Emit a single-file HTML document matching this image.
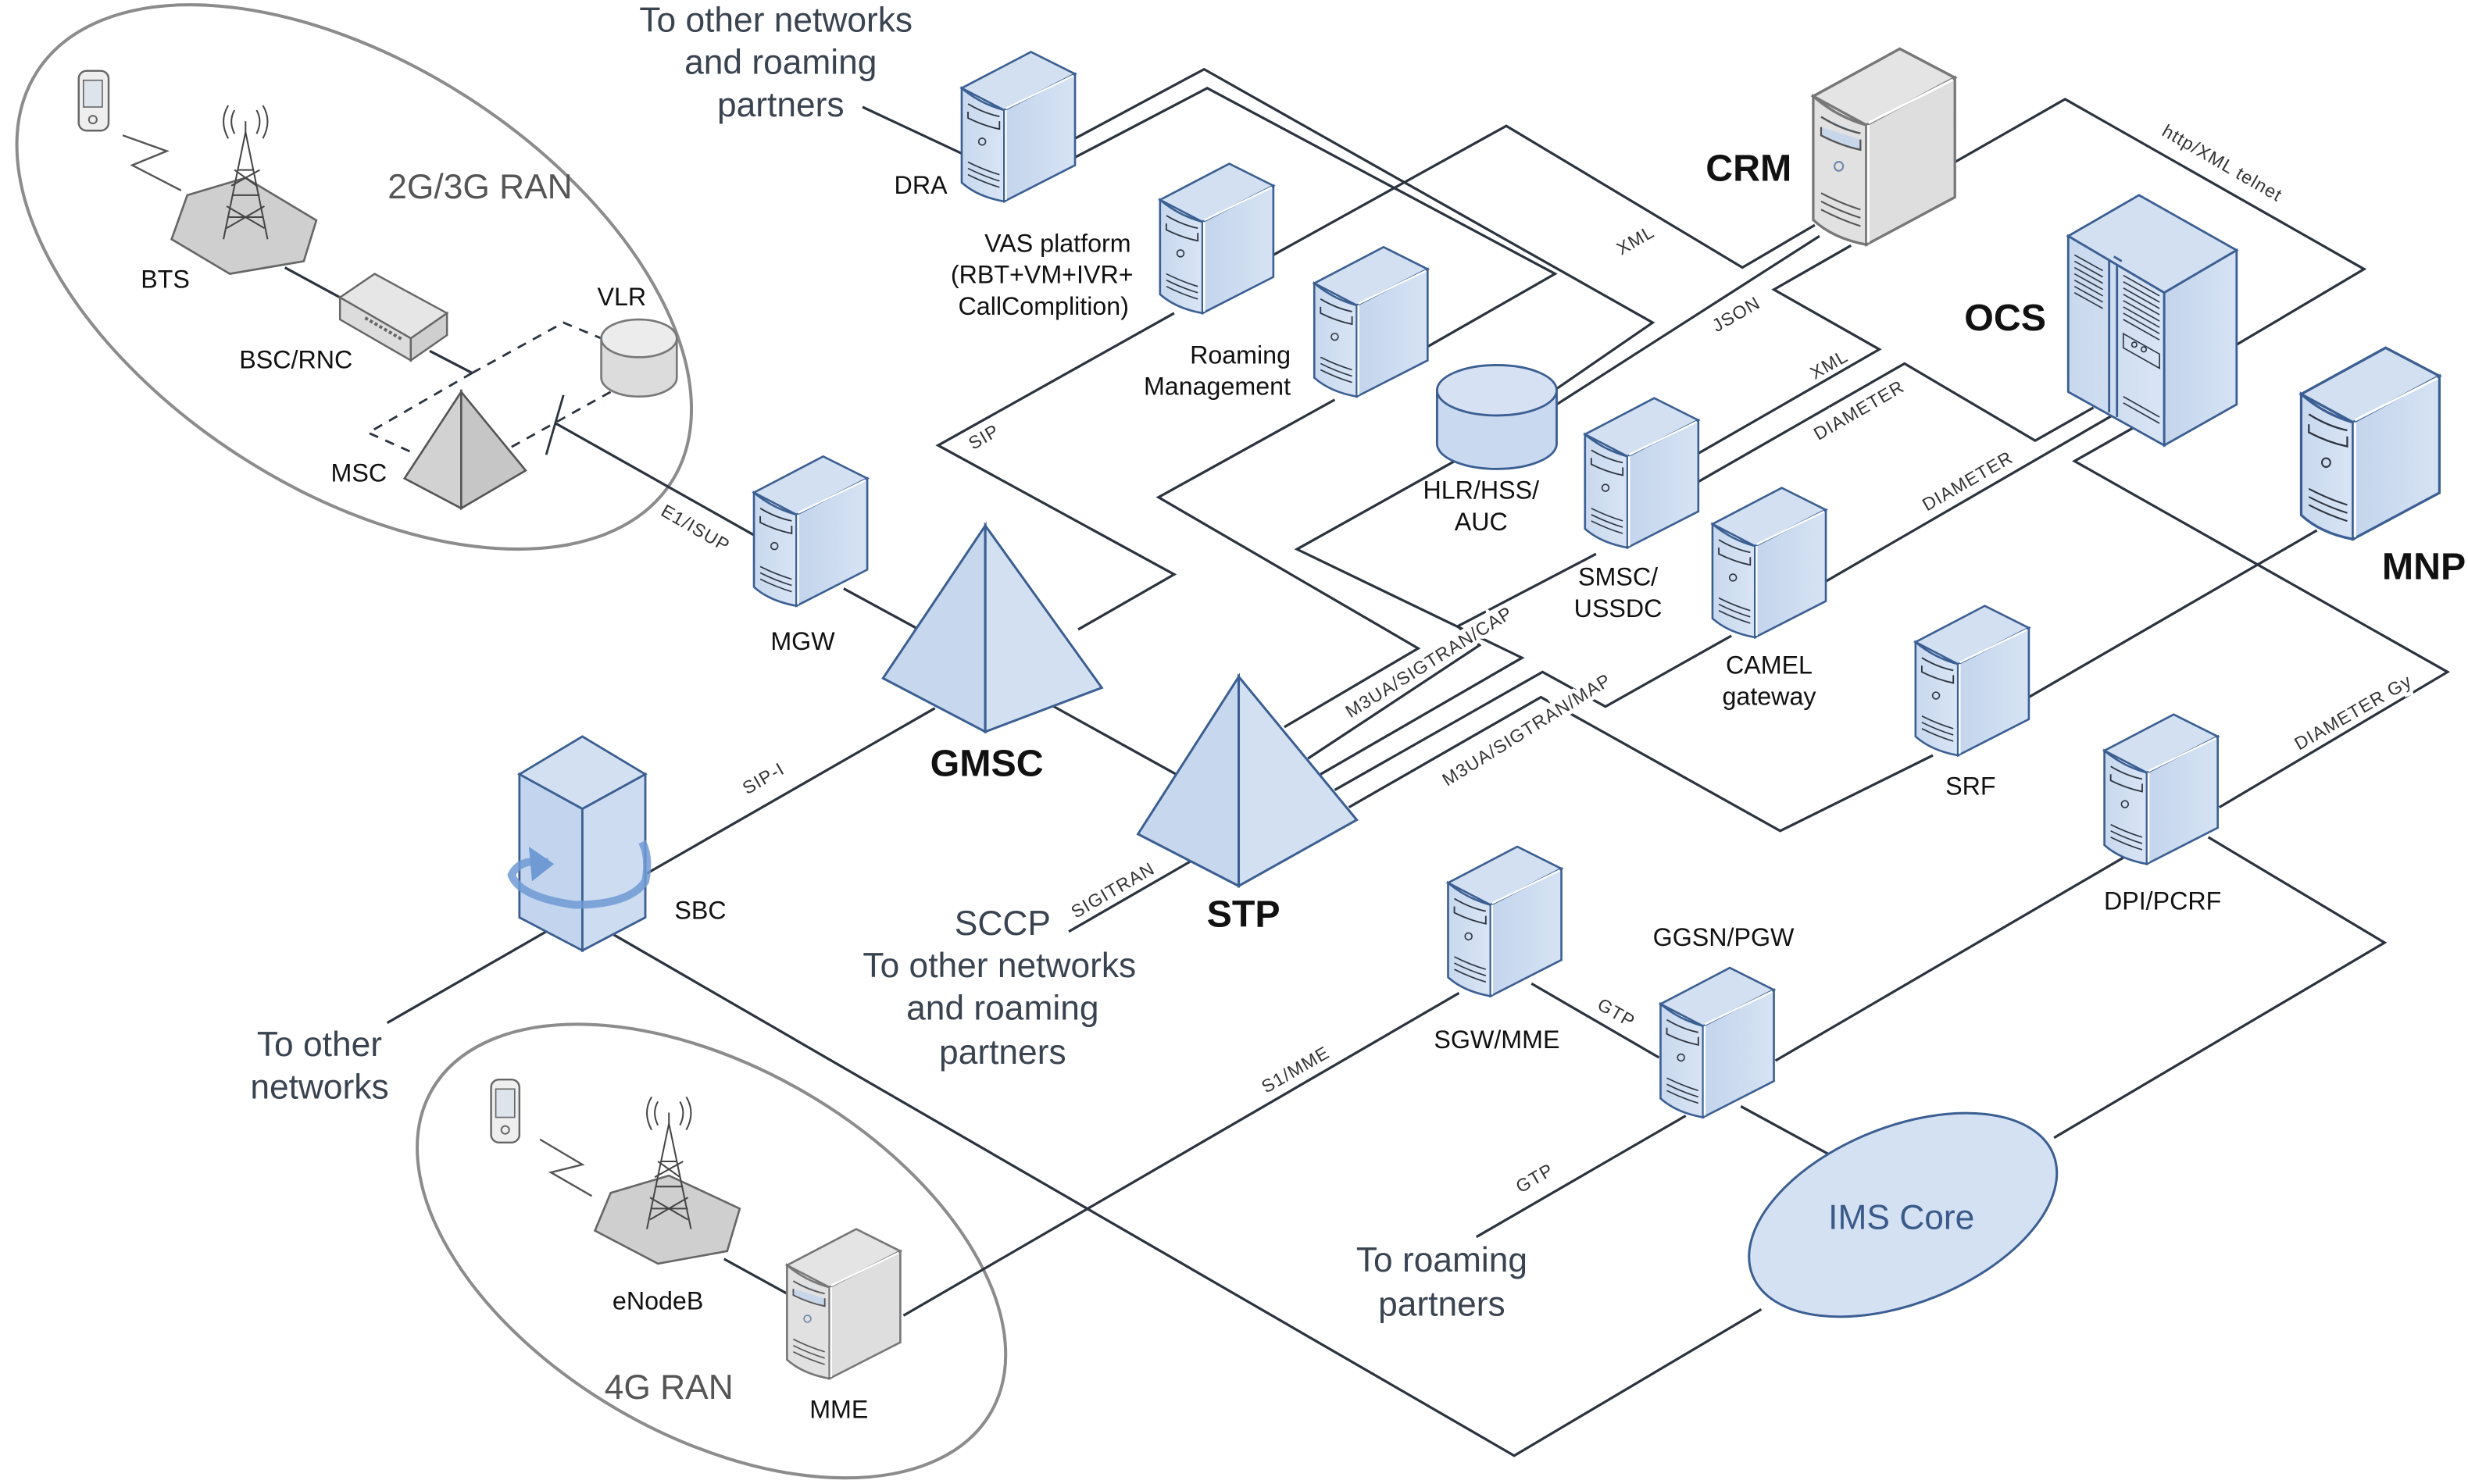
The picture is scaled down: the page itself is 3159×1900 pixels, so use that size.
<!DOCTYPE html>
<html><head><meta charset="utf-8">
<style>
html,body{margin:0;padding:0;background:#fff;width:3159px;height:1900px;overflow:hidden;}
svg{display:block;position:absolute;left:0;top:0;}
text{font-family:"Liberation Sans",Arial,sans-serif;}
.l{fill:none;stroke:#2b333f;stroke-width:1.6;stroke-linejoin:miter;}
.d{fill:none;stroke:#2b333f;stroke-width:1.4;stroke-dasharray:6 5;}
.t{font-size:16px;fill:#111;}
.b{font-size:24px;font-weight:bold;fill:#111;}
.g{font-size:22px;fill:#3a4350;}
.s{font-size:11.5px;fill:#333;letter-spacing:0.6px;stroke:#fff;stroke-width:5px;paint-order:stroke;}
</style></head>
<body>
<svg width="3159" height="1900" viewBox="0 0 1568 943" preserveAspectRatio="none" xmlns="http://www.w3.org/2000/svg" overflow="hidden">
<defs>
<linearGradient id="gr" x1="0" y1="0" x2="1" y2="0"><stop offset="0" stop-color="#c3d4ec"/><stop offset="1" stop-color="#d6e3f4"/></linearGradient>
<linearGradient id="gl" x1="0" y1="0" x2="1" y2="0"><stop offset="0" stop-color="#c8d8ee"/><stop offset="1" stop-color="#d9e5f5"/></linearGradient>
<g id="srv">
<path d="M0,23 L44,0 L72,14 L27,37 Z" fill="#d3e0f2" stroke="#3b5f92" stroke-width="1.3"/>
<path d="M0,23 Q12,33 27,37 L27,95 Q10,92 0,83 Z" fill="url(#gl)" stroke="#3b5f92" stroke-width="1.3"/>
<path d="M27,37 L72,14 L72,72 L27,95 Z" fill="url(#gr)" stroke="#3b5f92" stroke-width="1.3"/>
<path d="M28,36 L71,15 M28,37 L28,94" stroke="#fff" stroke-width="1.2" fill="none"/>
<path d="M4,33 Q14,39 24,41 M4,38 L4,42 Q14,47 24,49 L24,44" stroke="#2b333f" stroke-width="0.9" fill="none"/>
<circle cx="13" cy="57" r="2.2" fill="none" stroke="#2b333f" stroke-width="0.8"/>
<path d="M4,70 Q14,75 24,78 M4,74 Q14,79 24,82 M4,78 Q14,83 24,86" stroke="#2b333f" stroke-width="0.8" fill="none"/>
</g>
<g id="srvg">
<path d="M0,23 L44,0 L72,14 L27,37 Z" fill="#e4e4e4" stroke="#777" stroke-width="1.3"/>
<path d="M0,23 Q12,33 27,37 L27,95 Q10,92 0,83 Z" fill="#e1e1e1" stroke="#777" stroke-width="1.3"/>
<path d="M27,37 L72,14 L72,72 L27,95 Z" fill="#dedede" stroke="#777" stroke-width="1.3"/>
<path d="M28,36 L71,15 M28,37 L28,94" stroke="#fff" stroke-width="1.2" fill="none"/>
<path d="M4,33 Q14,39 24,41 M4,38 L4,42 Q14,47 24,49 L24,44" stroke="#555" stroke-width="0.9" fill="#c8d6ea"/>
<circle cx="13" cy="57" r="2.2" fill="none" stroke="#6a84a8" stroke-width="0.8"/>
<path d="M4,70 Q14,75 24,78 M4,74 Q14,79 24,82 M4,78 Q14,83 24,86" stroke="#555" stroke-width="0.8" fill="none"/>
</g>
</defs>

<ellipse cx="225" cy="176" rx="240" ry="135" transform="rotate(33 225 176)" fill="none" stroke="#8c8c8c" stroke-width="2"/>
<ellipse cx="452" cy="795" rx="205" ry="117" transform="rotate(30 452 795)" fill="none" stroke="#8c8c8c" stroke-width="2"/>

<polyline class="l" points="548,68 612,98"/>
<polyline class="l" points="683,88 765,44 1050,205 989,247"/>
<polyline class="l" points="683,100 767,56 988,174 904,222"/>
<polyline class="l" points="809,162 957,80 1107,170 1153,143"/>
<polyline class="l" points="746,199 596,283 746,365 685,400"/>
<polyline class="l" points="848,254 736,316 901,412 816,462"/>
<polyline class="l" points="926,292 824,349 967,418 839,492"/>
<polyline class="l" points="1014,352 926,398 940,410 831,482"/>
<polyline class="l" points="1100,404 1020,449 980,427 848,502"/>
<polyline class="l" points="1228,480 1131,528 979,443 857,513"/>
<polyline class="l" points="989,257 1156,150"/>
<polyline class="l" points="1067,295 1194,222 1127,184 1176,156"/>
<polyline class="l" points="1067,313 1210,231 1293,280 1330,259"/>
<polyline class="l" points="1159,370 1342,264"/>
<polyline class="l" points="1355,272 1318,293 1555,427 1410,513"/>
<polyline class="l" points="1242,103 1312,63 1502,171 1421,219"/>
<polyline class="l" points="1472,337 1289,443"/>
<polyline class="l" points="666,447 749,493"/>
<polyline class="l" points="536,374 582,399"/>
<polyline class="l" points="353,269 479,340"/>
<polyline class="l" points="594,450 411,555"/>
<polyline class="l" points="347,592 246,650"/>
<polyline class="l" points="390,594 962,925 1119,832"/>
<polyline class="l" points="757,547 679,592"/>
<polyline class="l" points="574,836 927,631"/>
<polyline class="l" points="973,625 1054,672"/>
<polyline class="l" points="1071,709 938,786"/>
<polyline class="l" points="1106,703 1172,739"/>
<polyline class="l" points="1128,674 1349,545"/>
<polyline class="l" points="1403,532 1515,599 1305,723"/>
<polyline class="l" points="181,170 216,189"/>
<polyline class="l" points="273,223 300,237"/>
<polyline class="l" points="460,800 500,822"/>
<polyline class="d" points="300,237 234,275 263,288"/>
<polyline class="d" points="300,237 358,205 382,215"/>
<polyline class="d" points="325,284 388,249"/>
<line x1="347" y1="289" x2="358" y2="251" stroke="#2b333f" stroke-width="1.4"/>

<g>
<rect x="50" y="45" width="19" height="38" rx="5" fill="#eee" stroke="#666" stroke-width="1.2"/>
<rect x="53" y="51" width="12" height="17" fill="#dde4ec" stroke="#666" stroke-width="0.8"/>
<circle cx="59" cy="76" r="2.5" fill="none" stroke="#666"/>
<polyline points="78,86 106,96 84,105 115,121" fill="none" stroke="#555" stroke-width="1.2"/>
<polygon points="119,124 156,113 201,140 193,166 146,174 109,152" fill="#cfcfcf" stroke="#666" stroke-width="1.3"/>
<g stroke="#444" stroke-width="1" fill="none">
<path d="M156,84 L142,152 M156,84 L170,152 M148,124 L165,124 M145,138 L167,138 M151,108 L161,108 M144,145 L168,131 M144,131 L168,145 M147,118 L165,108 M149,108 L163,118"/>
<line x1="156" y1="77" x2="156" y2="84"/>
<path d="M149,70 Q145,77 149,85 M163,70 Q167,77 163,85 M145,67 Q139,77 145,88 M167,67 Q173,77 167,88"/>
</g>
<polygon points="216,189 238,174 284,199 261,215" fill="#e6e6e6" stroke="#666" stroke-width="1.2"/>
<polygon points="216,189 261,215 261,229 216,203" fill="#dcdcdc" stroke="#666" stroke-width="1.2"/>
<polygon points="261,215 284,199 284,213 261,229" fill="#cfcfcf" stroke="#666" stroke-width="1.2"/>
<path d="M232,202 L256,216" stroke="#666" stroke-width="2" stroke-dasharray="2 1.5"/>
<path d="M382,215 L382,240 A24,12 0 0 0 430,240 L430,215" fill="#dcdcdc" stroke="#777" stroke-width="1.3"/>
<ellipse cx="406" cy="215" rx="24" ry="12" fill="#ececec" stroke="#777" stroke-width="1.3"/>
<polygon points="293,249 257,304 293,323" fill="#d2d2d2" stroke="#555" stroke-width="1.3"/>
<polygon points="293,249 334,299 293,323" fill="#c6c6c6" stroke="#555" stroke-width="1.3"/>
</g>

<g>
<rect x="312" y="686" width="18" height="40" rx="5" fill="#eee" stroke="#666" stroke-width="1.2"/>
<rect x="315" y="692" width="12" height="18" fill="#dde4ec" stroke="#666" stroke-width="0.8"/>
<circle cx="321" cy="718" r="2.5" fill="none" stroke="#666"/>
<polyline points="343,724 370,740 350,745 376,760" fill="none" stroke="#555" stroke-width="1.2"/>
<polygon points="388,758 425,747 470,768 462,795 418,803 378,782" fill="#cfcfcf" stroke="#666" stroke-width="1.3"/>
<g stroke="#444" stroke-width="1" fill="none">
<path d="M425,714 L411,781 M425,714 L439,781 M417,754 L434,754 M414,768 L437,768 M420,738 L430,738 M413,775 L437,761 M413,761 L437,775 M416,748 L434,738 M418,738 L432,748"/>
<line x1="425" y1="707" x2="425" y2="714"/>
<path d="M418,700 Q414,707 418,715 M432,700 Q436,707 432,715 M414,697 Q408,707 414,718 M436,697 Q442,707 436,718"/>
</g>
</g>

<use href="#srv" x="611" y="33"/>
<use href="#srv" x="737" y="104"/>
<use href="#srv" x="835" y="157"/>
<use href="#srv" x="1007" y="253"/>
<use href="#srv" x="1088" y="310"/>
<use href="#srv" x="1217" y="385"/>
<use href="#srv" x="1337" y="454"/>
<use href="#srv" x="479" y="290"/>
<use href="#srv" x="920" y="538"/>
<use href="#srv" x="1055" y="615"/>
<use href="#srvg" x="500" y="781"/>
<use href="#srvg" transform="translate(1152 31) scale(1.25 1.31)"/>
<use href="#srv" transform="translate(1462 221) scale(1.22 1.28)"/>

<path d="M913,248 L913,282 A38,16 0 0 0 989,282 L989,248" fill="#c9d9ef" stroke="#3b5f92" stroke-width="1.4"/>
<ellipse cx="951" cy="248" rx="38" ry="16" fill="#d6e2f3" stroke="#3b5f92" stroke-width="1.4"/>

<g stroke="#3b5f92" stroke-width="1.4">
<polygon points="1314,150 1359,124 1421,159 1375,186" fill="#d3e0f2"/>
<polygon points="1314,150 1375,186 1375,283 1314,249" fill="url(#gl)"/>
<polygon points="1375,186 1421,159 1421,257 1375,283" fill="url(#gr)"/>
<path d="M1340,165 L1340,262 M1345,168 L1345,265" fill="none"/>
<path d="M1343,163 L1348,166" fill="none"/>
</g>
<g stroke="#2b333f" stroke-width="0.8" fill="none">
<path d="M1318,162 L1336,172 M1318,166 L1336,176 M1318,170 L1336,180 M1318,174 L1336,184 M1318,178 L1336,188 M1318,182 L1336,192 M1318,186 L1336,196"/>
<path d="M1349,175 L1372,188 M1349,179 L1372,192 M1349,183 L1372,196 M1349,187 L1372,200 M1349,191 L1372,204 M1349,195 L1372,208 M1349,199 L1372,212 M1349,203 L1372,216"/>
<polygon points="1349,212 1372,225 1372,234 1349,221"/>
<circle cx="1356" cy="219" r="1.6"/><circle cx="1362" cy="222" r="1.6"/>
<path d="M1349,252 L1372,265 M1349,256 L1372,269"/>
</g>

<g stroke="#3b5f92" stroke-width="1.5">
<polygon points="626,334 561,431 626,465" fill="#c6d7ee"/>
<polygon points="626,334 700,437 626,465" fill="#d3e0f2"/>
<polygon points="787,430 723,530 787,563" fill="#c6d7ee"/>
<polygon points="787,430 862,521 787,563" fill="#d3e0f2"/>
</g>

<g stroke="#3b5f92" stroke-width="1.4">
<polygon points="330,492 370,468 410,492 370,514" fill="#d3e0f2"/>
<polygon points="330,492 370,514 370,604 330,583" fill="#c3d5ee"/>
<polygon points="370,514 410,492 410,583 370,604" fill="#cddcf1"/>
</g>
<path d="M348,548 Q330,545 325,556 Q330,570 365,575 Q400,575 410,560 Q413,545 408,535" fill="none" stroke="#6f9ad3" stroke-width="5" opacity="0.85"/>
<path d="M336,538 L352,549 L338,560 Z" fill="#6f9ad3"/>

<ellipse cx="1209" cy="772" rx="103" ry="56" transform="rotate(-22 1209 772)" fill="#d4e1f3" stroke="#3b5f92" stroke-width="1.5"/>

<g class="g" text-anchor="middle">
<text x="493" y="20">To other networks</text>
<text x="496" y="47">and roaming</text>
<text x="496" y="74">partners</text>
<text x="637" y="594">SCCP</text>
<text x="635" y="621">To other networks</text>
<text x="637" y="648">and roaming</text>
<text x="637" y="676">partners</text>
<text x="203" y="671">To other</text>
<text x="203" y="698">networks</text>
<text x="916" y="808">To roaming</text>
<text x="916" y="836">partners</text>
<text x="305" y="126" fill="#555">2G/3G RAN</text>
<text x="425" y="889" fill="#555">4G RAN</text>
<text x="1208" y="781" fill="#3a5a8a">IMS Core</text>
</g>
<g class="t" text-anchor="middle">
<text x="105" y="183">BTS</text>
<text x="188" y="234">BSC/RNC</text>
<text x="395" y="194">VLR</text>
<text x="228" y="306">MSC</text>
<text x="510" y="413">MGW</text>
<text x="585" y="123">DRA</text>
<text x="672" y="160">VAS platform</text>
<text x="662" y="180">(RBT+VM+IVR+</text>
<text x="663" y="200">CallComplition)</text>
<text x="941" y="317">HLR/HSS/</text>
<text x="941" y="337">AUC</text>
<text x="1028" y="372">SMSC/</text>
<text x="1028" y="392">USSDC</text>
<text x="1124" y="428">CAMEL</text>
<text x="1124" y="448">gateway</text>
<text x="1252" y="505">SRF</text>
<text x="1374" y="578">DPI/PCRF</text>
<text x="1095" y="601">GGSN/PGW</text>
<text x="951" y="666">SGW/MME</text>
<text x="445" y="584">SBC</text>
<text x="418" y="832">eNodeB</text>
<text x="533" y="901">MME</text>
</g>
<g class="t" text-anchor="end">
<text x="820" y="231">Roaming</text>
<text x="820" y="251">Management</text>
</g>
<g class="b" text-anchor="middle">
<text x="1111" y="115">CRM</text>
<text x="1274" y="210">OCS</text>
<text x="1540" y="368">MNP</text>
<text x="627" y="493">GMSC</text>
<text x="790" y="589">STP</text>
</g>
<g class="s" text-anchor="middle">
<text transform="translate(1041,156) rotate(-30)">XML</text>
<text transform="translate(1105,203) rotate(-30)">JSON</text>
<text transform="translate(1164,235) rotate(-30)">XML</text>
<text transform="translate(1183,264) rotate(-30)">DIAMETER</text>
<text transform="translate(1252,309) rotate(-30)">DIAMETER</text>
<text transform="translate(1410,107) rotate(30)">http/XML telnet</text>
<text transform="translate(1497,456) rotate(-30)">DIAMETER Gy</text>
<text transform="translate(627,281) rotate(-30)">SIP</text>
<text transform="translate(910,424) rotate(-32)">M3UA/SIGTRAN/CAP</text>
<text transform="translate(972,467) rotate(-32)">M3UA/SIGTRAN/MAP</text>
<text transform="translate(487,498) rotate(-30)">SIP-I</text>
<text transform="translate(709,569) rotate(-30)">SIGITRAN</text>
<text transform="translate(825,683) rotate(-30)">S1/MME</text>
<text transform="translate(1025,647) rotate(30)">GTP</text>
<text transform="translate(977,752) rotate(-30)">GTP</text>
<text transform="translate(440,339) rotate(30)">E1/ISUP</text>
</g>
</svg>
</body></html>
